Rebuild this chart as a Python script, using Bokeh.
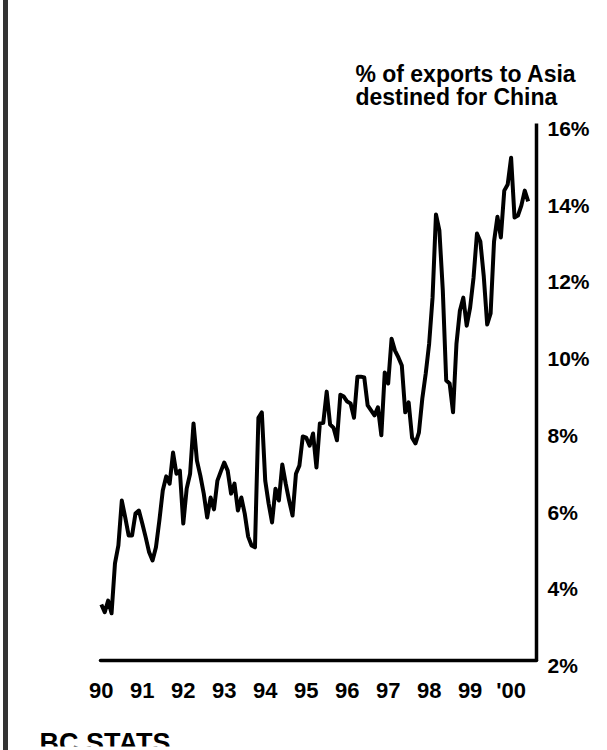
from bokeh.plotting import figure
from bokeh.models import Range1d, FixedTicker, Spacer
from bokeh.layouts import row
from bokeh.core.properties import value
from bokeh.embed import file_html
from bokeh.resources import INLINE

# ---- data (monthly, Jan 1990 - Jun 2000) ----
start_year = 1990
share = [
    3.46, 3.26, 3.56, 3.23, 4.53, 5.00, 6.17, 5.73, 5.26, 5.26, 5.83, 5.91,   # 1990
    5.57, 5.21, 4.82, 4.61, 4.95, 5.65, 6.43, 6.80, 6.61, 7.42, 6.87, 6.95,   # 1991
    5.57, 6.48, 6.87, 8.18, 7.21, 6.82, 6.35, 5.73, 6.25, 5.94, 6.69, 6.93,   # 1992
    7.16, 6.95, 6.35, 6.61, 5.91, 6.25, 5.83, 5.23, 5.00, 4.95, 8.33, 8.47,   # 1993
    6.69, 6.09, 5.60, 6.48, 6.17, 7.11, 6.61, 6.17, 5.78, 6.87, 7.08, 7.84,   # 1994
    7.81, 7.60, 7.92, 7.03, 8.18, 8.20, 9.01, 8.15, 8.07, 7.74, 8.93, 8.88,   # 1995
    8.75, 8.70, 8.33, 9.40, 9.40, 9.38, 8.65, 8.52, 8.39, 8.60, 7.87, 9.51,   # 1996
    9.22, 10.39, 10.08, 9.90, 9.69, 8.47, 8.73, 7.81, 7.66, 7.94, 8.83, 9.48,  # 1997
    10.26, 11.46, 13.63, 13.21, 11.65, 9.30, 9.22, 8.47, 10.26, 11.12, 11.46, 10.73,  # 1998
    11.20, 11.98, 13.13, 12.92, 12.01, 10.76, 11.05, 12.92, 13.57, 13.03, 14.25, 14.41,  # 1999
    15.11, 13.55, 13.60, 13.86, 14.25, 13.97,  # 2000
]
year_ticks = [1990, 1991, 1992, 1993, 1994, 1995, 1996, 1997, 1998, 1999, 2000]
year_labels = ["90", "91", "92", "93", "94", "95", "96", "97", "98", "99", "'00"]
pct_ticks = [2, 4, 6, 8, 10, 12, 14, 16]
pct_labels = ["2%", "4%", "6%", "8%", "10%", "12%", "14%", "16%"]
title_lines = ["% of exports to Asia", "destined for China"]
source_text = "BC STATS"

x = [start_year + i / 12 for i in range(len(share))]

FONT = "Liberation Sans"
H = 750
W = 596
X0, X_AXIS = 1989.98, 2000.62     # left end of the time axis / where the % axis stands
Y0, Y1 = 2, 16                    # extent of the % axis

# the frame covers the whole figure; axes are drawn at fixed data locations
p = figure(width=W, height=H, output_backend="svg", toolbar_location=None,
           x_range=Range1d(1987.735, 2002.084), y_range=Range1d(-0.2421, 18.4246),
           y_axis_location="right",
           min_border_left=0, min_border_right=8,
           min_border_top=30, min_border_bottom=4)

p.line(x, share, line_width=4, line_color="black", line_join="round")

common = dict(text_font=value(FONT), text_font_style="bold", text_color="black")

# chart title (two lines)
p.text(x=[1996.20, 1996.20], y=[17.30, 16.68], text=title_lines,
       text_font_size="23px", text_align="left", text_baseline="alphabetic", **common)

# percentage labels to the right of the vertical axis
p.text(x=[X_AXIS] * len(pct_ticks), y=pct_ticks, text=pct_labels,
       x_offset=11, y_offset=5, text_font_size="21px",
       text_align="left", text_baseline="middle", **common)

# year labels under the time axis
p.text(x=year_ticks, y=[Y0] * len(year_ticks), text=year_labels,
       y_offset=30, text_font_size="22px",
       text_align="center", text_baseline="middle", **common)

# source line
p.text(x=[1988.49], y=[-0.16], text=[source_text], text_font_size="27px",
       text_align="left", text_baseline="alphabetic", **common)

p.xgrid.visible = False
p.ygrid.visible = False
p.outline_line_color = None
p.background_fill_color = "white"
p.border_fill_color = "white"

xa = p.xaxis[0]
xa.ticker = FixedTicker(ticks=year_ticks)
xa.fixed_location = Y0
xa.bounds = (X0, X_AXIS)
xa.axis_line_width = 3.5
xa.axis_line_color = "black"
xa.axis_line_cap = "round"
xa.major_tick_line_color = None
xa.minor_tick_line_color = None
xa.major_tick_out = 0
xa.major_tick_in = 0
xa.major_label_standoff = 0
xa.major_label_text_font_size = "1px"
xa.major_label_text_alpha = 0

ya = p.yaxis[0]
ya.ticker = FixedTicker(ticks=pct_ticks)
ya.fixed_location = X_AXIS
ya.bounds = (Y0, Y1)
ya.axis_line_width = 3.5
ya.axis_line_color = "black"
ya.major_tick_line_color = None
ya.minor_tick_line_color = None
ya.major_tick_out = 0
ya.major_tick_in = 0
ya.major_label_standoff = 0
ya.major_label_text_font_size = "1px"
ya.major_label_text_alpha = 0

gap = Spacer(width=3, height=H)
bar = Spacer(width=5, height=H, styles={"background-color": "#333333"})
layout = row(gap, bar, p, spacing=0)

open("out.html", "w").write(file_html(layout, INLINE))
